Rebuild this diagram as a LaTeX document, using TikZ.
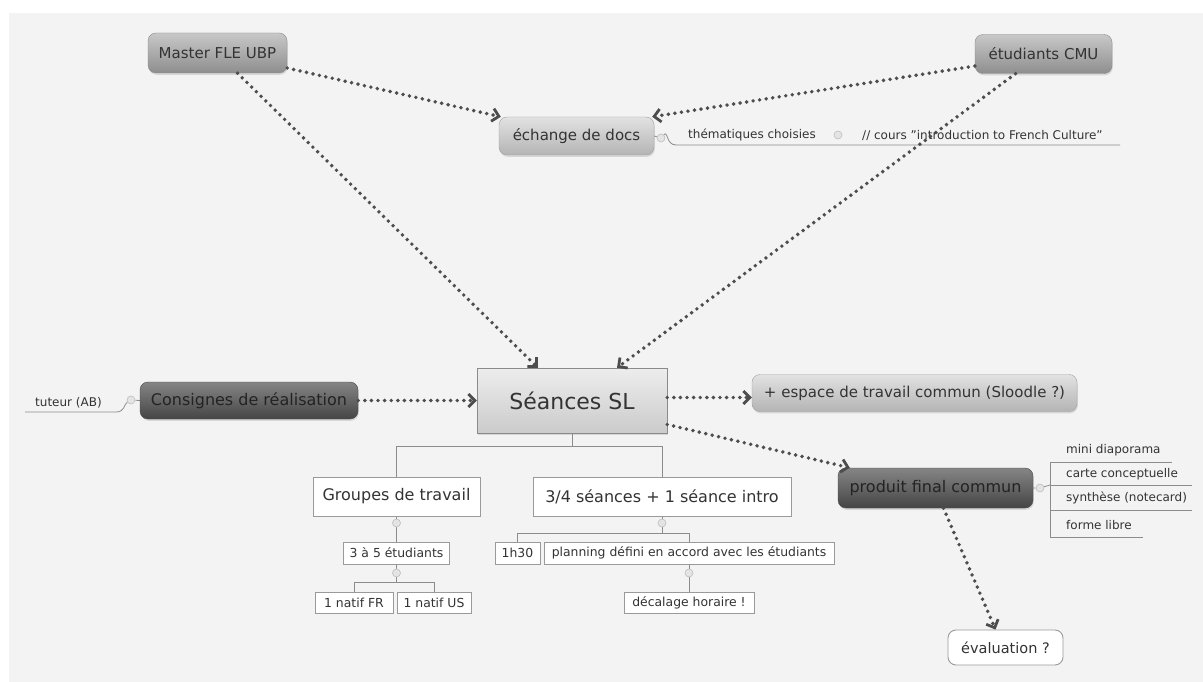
\documentclass[tikz,border=0pt]{standalone}
\usepackage{fontspec}
\setmainfont{DejaVu Sans}
\usetikzlibrary{arrows.meta,shadows}
\pgfdeclarelayer{back}
\pgfdeclarelayer{lines}
\pgfsetlayers{back,lines,main}

\definecolor{bgc}{HTML}{F3F3F3}
\definecolor{txt}{HTML}{333333}
\definecolor{arr}{HTML}{4D4D4D}
\definecolor{edgec}{HTML}{8A8A8A}
\definecolor{tr}{HTML}{8C8C8C}
\definecolor{gTop}{HTML}{C8C8C8}
\definecolor{gBot}{HTML}{8E8E8E}
\definecolor{lTop}{HTML}{E2E2E2}
\definecolor{lBot}{HTML}{B4B4B4}
\definecolor{dTop}{HTML}{858585}
\definecolor{dBot}{HTML}{454545}
\definecolor{dEdge}{HTML}{4A4A4A}
\definecolor{dTxt}{HTML}{232323}
\definecolor{cTop}{HTML}{EDEDED}
\definecolor{cBot}{HTML}{CBCBCB}
\definecolor{wEdge}{HTML}{9A9A9A}
\definecolor{kFill}{HTML}{E4E4E4}
\definecolor{kEdge}{HTML}{BDBDBD}

\newcommand{\fsz}[1]{\fontsize{#1}{#1}\selectfont}

\begin{document}
\begin{tikzpicture}[x=1pt,y=-1pt,
  box/.style={inner sep=0pt, align=center, text=txt},
  shd/.style={drop shadow={shadow xshift=0.8pt, shadow yshift=-1.8pt, opacity=0.25}},
  midg/.style={box, shd, rounded corners=8pt, draw=edgec, top color=gTop, bottom color=gBot, font=\fsz{15}},
  lightg/.style={box, shd, rounded corners=8pt, draw=edgec!80, top color=lTop, bottom color=lBot, font=\fsz{15}},
  darkg/.style={box, shd, rounded corners=8pt, draw=dEdge, top color=dTop, bottom color=dBot, text=dTxt, font=\fsz{16}},
  centerg/.style={box, shd, draw=edgec, top color=cTop, bottom color=cBot, font=\fsz{22}},
  wbox/.style={box, draw=wEdge, fill=white, line width=0.8pt, font=\fsz{16}},
  sbox/.style={box, draw=wEdge, fill=white, line width=0.7pt, font=\fsz{12.4}},
  note/.style={inner sep=0pt, text=txt, font=\fsz{12}, anchor=west},
  knob/.style={circle, inner sep=0pt, minimum size=8pt, fill=kFill, draw=kEdge, line width=0.6pt},
  tree/.style={draw=tr, line width=0.8pt},
  dots/.style={draw=arr, line width=3.9pt, line cap=round, dash pattern=on 0pt off 6.6pt,
    -{Straight Barb[length=6.5pt, width=13pt, line width=2.8pt]}}
]
\useasboundingbox (0,0) rectangle (1203,682);
\begin{pgfonlayer}{back}
  \fill[white] (0,0) rectangle (1203,682);
  \fill[bgc] (9,13) rectangle (1203,682);
\end{pgfonlayer}

% main nodes
\node[midg, minimum width=139pt, minimum height=40pt] (m) at (217.5,53) {Master FLE UBP};
\node[midg, minimum width=137pt, minimum height=39pt] (c) at (1043.5,54) {étudiants CMU};
\node[lightg, minimum width=155pt, minimum height=38pt] (e) at (576.5,136) {échange de docs};
\node[centerg, minimum width=190pt, minimum height=65pt] (s) at (572,400.5) {Séances SL};
\node[darkg, minimum width=218pt, minimum height=37pt] (cons) at (249,400.5) {Consignes de réalisation};
\node[lightg, minimum width=325pt, minimum height=37pt] (esp) at (914.5,393) {+ espace de travail commun (Sloodle ?)};
\node[darkg, minimum width=195pt, minimum height=40pt] (p) at (935.5,488) {produit final commun};
\node[box, rounded corners=8pt, draw=wEdge, fill=white, line width=0.9pt, font=\fsz{14.5},
      minimum width=115pt, minimum height=35pt] (ev) at (1005.5,647.5) {évaluation ?};

% sub boxes
\node[wbox, minimum width=167pt, minimum height=39pt] (g) at (396.5,496.5) {Groupes de travail};
\node[wbox, minimum width=258pt, minimum height=39pt] (t) at (662,496.5) {3/4 séances + 1 séance intro};
\node[sbox, minimum width=106pt, minimum height=22pt] (f) at (396.5,553) {3 à 5 étudiants};
\node[sbox, minimum width=78pt, minimum height=21pt] (nfr) at (354,602.5) {1 natif FR};
\node[sbox, minimum width=74pt, minimum height=21pt] (nus) at (434,602.5) {1 natif US};
\node[sbox, minimum width=45pt, minimum height=22pt] (h) at (517.5,553) {1h30};
\node[sbox, minimum width=290pt, minimum height=22pt] (pl) at (689,553) {planning défini en accord avec les étudiants};
\node[sbox, minimum width=130pt, minimum height=21pt] (dec) at (689,602.5) {décalage horaire !};

% knobs
\node[knob] (k1) at (396.5,523) {};
\node[knob] (k2) at (662,523) {};
\node[knob] (k3) at (396.5,573) {};
\node[knob] (k4) at (689,573) {};
\node[knob] (k5) at (131,400) {};
\node[knob] (k6) at (661,138) {};
\node[knob] (k7) at (838,135) {};
\node[knob] (k8) at (1040,488) {};

% notes
\node[note] (tut) at (35,403) {tuteur (AB)};
\node[note] (th) at (688,135) {thématiques choisies};
\node[note] (cr) at (862,135) {// cours "introduction to French Culture"};
\node[note] (n1) at (1066,450) {mini diaporama};
\node[note] (n2) at (1066,474) {carte conceptuelle};
\node[note] (n3) at (1066,498) {synthèse (notecard)};
\node[note] (n4) at (1066,525) {forme libre};

\coordinate (u1) at (25,412);
\coordinate (u2) at (1120,145);
\coordinate (b1) at (1050,462);
\coordinate (b2) at (1050,485);
\coordinate (b3) at (1050,510);
\coordinate (b4) at (1050,537);
\coordinate (e1) at (1172,462);
\coordinate (e2) at (1192,485);
\coordinate (e3) at (1192,510);
\coordinate (e4) at (1143,537);

\begin{pgfonlayer}{lines}
  % tree below Seances
  \draw[tree] (s.south) -- ++(0,13.5) -| (g.north);
  \draw[tree] (s.south) -- ++(0,13.5) -| (t.north);
  \draw[tree] (g.south) -- (k1) -- (f.north);
  \draw[tree] (f.south) -- (k3);
  \draw[tree] (k3.south) -- ++(0,5) -| (nfr.north);
  \draw[tree] (k3.south) -- ++(0,5) -| (nus.north);
  \draw[tree] (t.south) -- (k2);
  \draw[tree] (k2.south) -- ++(0,6) -| (h.north);
  \draw[tree] (k2.south) -- ++(0,6) -| (pl.north);
  \draw[tree] (pl.south) -- (k4) -- (dec.north);
  % annotations
  \draw[tree] (cons.west) -- (k5);
  \draw[tree] (k5) .. controls (124,404) and (125,412) .. (116,412) -- (u1);
  \draw[tree] (e.east) -- (k6);
  \draw[tree] (k6) .. controls (668,130) and (666,145) .. (676,145) -- (u2);
  \draw[tree] (p.east) -- (k8) -- (b2);
  \draw[tree] (b1) -- (b4);
  \draw[tree] (b1) -- (e1);
  \draw[tree] (b2) -- (e2);
  \draw[tree] (b3) -- (e3);
  \draw[tree] (b4) -- (e4);
\end{pgfonlayer}

% dotted arrows
\draw[dots] ([yshift=-15pt]m.east) -- ([xshift=2pt]e.north west);
\draw[dots] ([yshift=-12pt]c.west) -- ([xshift=-2pt]e.north east);
\draw[dots] ([xshift=20pt]m.south) -- ([xshift=-34pt]s.north);
\draw[dots] ([xshift=-28pt]c.south) -- ([xshift=45pt]s.north);
\draw[dots] (cons.east) -- (s.west);
\draw[dots] ([yshift=3pt]s.east) -- ([yshift=-4.5pt]esp.west);
\draw[dots] ([yshift=-24pt]s.east) -- ([xshift=12pt]p.north west);
\draw[dots] ([xshift=8pt]p.south) -- ([xshift=-10pt]ev.north);
\end{tikzpicture}
\end{document}
